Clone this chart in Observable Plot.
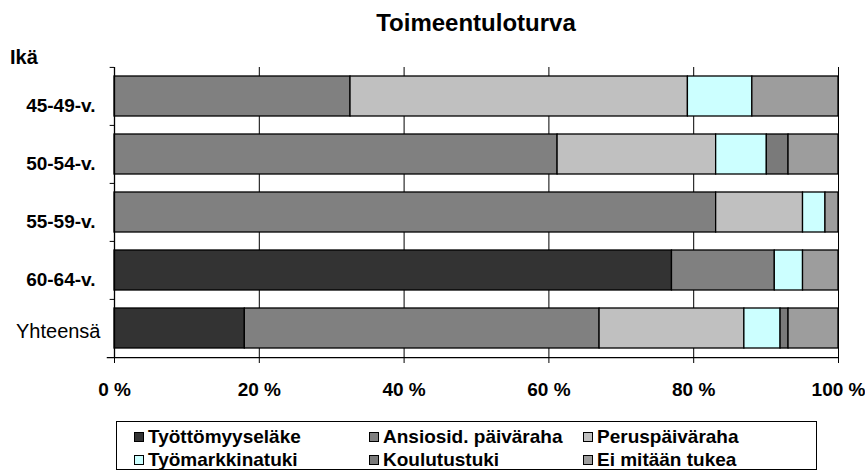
<!DOCTYPE html>
<html><head><meta charset="utf-8">
<script src="https://cdn.jsdelivr.net/npm/d3@7"></script>
<script src="https://cdn.jsdelivr.net/npm/@observablehq/plot@0.6"></script>
<style>
body{margin:0;background:#fff;font-family:"Liberation Sans",Arial,sans-serif;color:#000;}
#wrap{position:relative;width:865px;height:473px;overflow:hidden;}
#title{position:absolute;left:114px;width:724px;top:9px;text-align:center;font-weight:bold;font-size:24px;}
#ika{position:absolute;left:10px;top:46px;font-weight:bold;font-size:20px;}
#chart{position:absolute;left:0;top:0;}
#legend{position:absolute;left:116px;top:421px;width:699px;height:47px;border:1px solid #000;background:#fff;}
.item{position:absolute;display:flex;align-items:center;font-weight:bold;font-size:19px;line-height:22px;white-space:nowrap;}
.sw{width:8px;height:8px;border:1px solid #000;margin-right:4px;}
</style></head>
<body>
<div id="wrap">
  <div id="chart"></div>
  <div id="title">Toimeentuloturva</div>
  <div id="ika">Ikä</div>
  <div id="legend"></div>
</div>
<script>
const categories = ["45-49-v.", "50-54-v.", "55-59-v.", "60-64-v.", "Yhteensä"];
const series = ["Työttömyyseläke", "Ansiosid. päiväraha", "Peruspäiväraha", "Työmarkkinatuki", "Koulutustuki", "Ei mitään tukea"];
const colors = ["#333333", "#808080", "#c0c0c0", "#ccffff", "#7a7a7a", "#9d9d9d"];
const tyottomyyselake = [0, 0, 0, 77.0, 18.0];
const ansiosid = [32.6, 61.2, 83.1, 14.2, 49.0];
const peruspaivaraha = [46.6, 21.9, 12.0, 0, 20.0];
const tyomarkkinatuki = [8.9, 7.0, 3.1, 3.9, 5.0];
const koulutustuki = [0, 3.0, 0, 0, 1.1];
const eiMitaan = [11.9, 6.9, 1.8, 4.9, 6.9];
const xTicks = [0, 20, 40, 60, 80, 100];

const seriesValues = [tyottomyyselake, ansiosid, peruspaivaraha, tyomarkkinatuki, koulutustuki, eiMitaan];
const data = [];
categories.forEach((c, i) => {
  series.forEach((s, j) => {
    if (seriesValues[j][i] > 0) data.push({age: c, series: s, value: seriesValues[j][i]});
  });
});

const W = 865, H = 415, mT = 67, mB = 57, mL = 114, mR = 27;
const step = (H - mT - mB) / categories.length;

const chart = Plot.plot({
  width: W, height: H,
  marginTop: mT, marginBottom: mB, marginLeft: mL, marginRight: mR,
  style: {fontFamily: "'Liberation Sans', Arial, sans-serif", color: "#000", background: "transparent"},
  x: {domain: [0, 100], label: null},
  y: {domain: categories, paddingInner: 0.31, paddingOuter: 0.155, label: null},
  color: {domain: series, range: colors},
  marks: [
    Plot.ruleX(xTicks.slice(1), {stroke: "#000", strokeWidth: 1}),
    Plot.barX(data, {x: "value", y: "age", fill: "series", stroke: "#000", strokeWidth: 1.3}),
    Plot.ruleX([0], {stroke: "#000", strokeWidth: 1.3}),
    Plot.ruleY(categories, {y: d => d, x1: -0.6, x2: 0, dy: -step / 2, stroke: "#000"}),
    Plot.ruleY(categories.slice(-1), {y: d => d, x1: -1, x2: 100, dy: step / 2, stroke: "#000", strokeWidth: 1.3}),
    Plot.axisX(xTicks, {tickSize: 5, tickPadding: 19, tickFormat: d => d + " %", fontSize: 19, fontWeight: "bold", label: null, stroke: "#000"}),
    Plot.axisY(categories.slice(0, 4), {tickSize: 0, tickPadding: 19, fontSize: 19, fontWeight: "bold", dy: 9, label: null}),
    Plot.axisY(categories.slice(4), {tickSize: 0, tickPadding: 14, fontSize: 20, fontWeight: "normal", dy: 3, label: null})
  ]
});
document.getElementById("chart").appendChild(chart);

const legend = document.getElementById("legend");
const colLeft = [17, 252, 466];
const rowTop = [4, 27];
series.forEach((s, i) => {
  const el = document.createElement("div");
  el.className = "item";
  el.style.left = colLeft[i % 3] + "px";
  el.style.top = rowTop[Math.floor(i / 3)] + "px";
  const sw = document.createElement("div");
  sw.className = "sw";
  sw.style.background = colors[i];
  el.appendChild(sw);
  el.appendChild(document.createTextNode(s));
  legend.appendChild(el);
});
</script>
</body></html>
